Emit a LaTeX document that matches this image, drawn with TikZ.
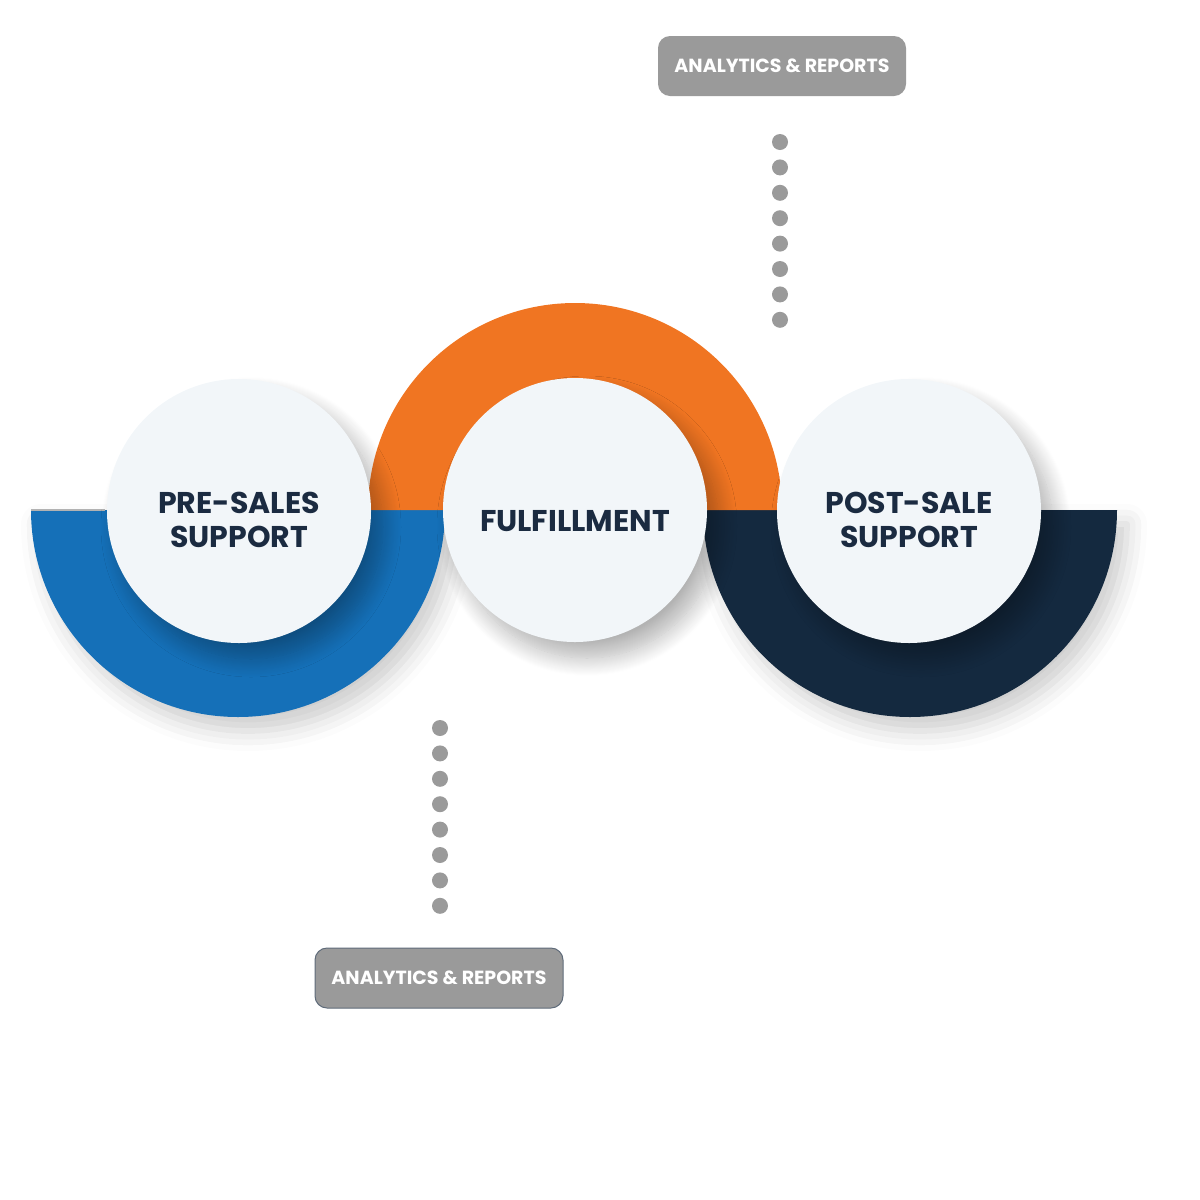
\documentclass[tikz,border=0pt]{standalone}
\usepackage{fontspec}
\setmainfont{Poppins}
\usetikzlibrary{shadows.blur}
\definecolor{cblue}{HTML}{1570B8}
\definecolor{corange}{HTML}{F07522}
\definecolor{cnavy}{HTML}{14293F}
\definecolor{cwhite}{HTML}{F2F6F9}
\definecolor{cgray}{HTML}{9A9A9A}
\definecolor{ctext}{HTML}{1B2B41}
\tikzset{
  disc/.style={circle,fill=cwhite,minimum size=264pt,inner sep=0,align=center,text=ctext,font=\fontsize{30}{34}\selectfont\bfseries,
    blur shadow={shadow xshift=12pt,shadow yshift=-16pt,shadow blur steps=20,shadow blur radius=18pt,shadow opacity=30}},
  lbl/.style={align=center,text=ctext,font=\fontsize{30}{34}\selectfont\bfseries},
  tag/.style={rounded corners=12pt,fill=cgray,text=white,minimum width=248pt,minimum height=60pt,font=\fontsize{19}{22}\selectfont\bfseries},
  dotc/.style={fill=cgray}
}
\begin{document}
\begin{tikzpicture}[x=1pt,y=-1pt]
\useasboundingbox (0,0) rectangle (1200,1200);
% rings
\fill[cblue,blur shadow={shadow xshift=10pt,shadow yshift=-14pt,shadow blur radius=20pt,shadow opacity=20}] (31,510) arc[start angle=180,end angle=0,radius=207] -- cycle;
\fill[cnavy,blur shadow={shadow xshift=10pt,shadow yshift=-14pt,shadow blur radius=20pt,shadow opacity=20}] (703,510) arc[start angle=180,end angle=0,radius=207] -- cycle;
\fill[corange] (368,510) arc[start angle=180,end angle=360,radius=207] -- cycle;
\draw[gray!60,line width=1.5pt] (31,510) -- (105,510);
% circles
\node[disc] (pre) at (239,511) {};
\node[disc] (ful) at (575,510) {};
\node[disc] (post) at (909,511) {};
\node[lbl] (prel) at (239,520) {PRE-SALES\\SUPPORT};
\node[lbl] (full) at (575,521) {FULFILLMENT};
\node[lbl] (postl) at (909,520) {POST-SALE\\SUPPORT};
% tags
\node[tag] (t1) at (782,66) {ANALYTICS \& REPORTS};
\node[tag,draw=ctext!70,line width=1pt] (t2) at (439,978) {ANALYTICS \& REPORTS};
% dots
\foreach \i in {0,...,7} {
  \fill[dotc] (780,{142+25.4*\i}) circle (8);
  \fill[dotc] (440,{728+25.4*\i}) circle (8);
}
\end{tikzpicture}
\end{document}
